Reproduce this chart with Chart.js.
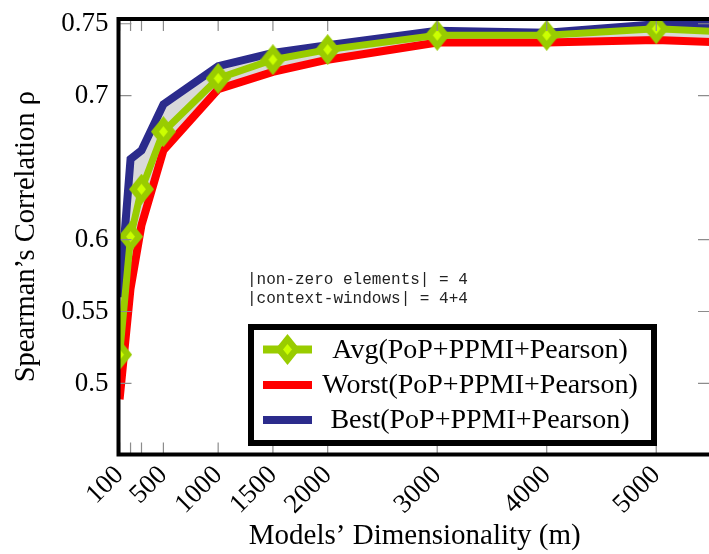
<!DOCTYPE html>
<html>
<head>
<meta charset="utf-8">
<script src="https://cdn.jsdelivr.net/npm/chart.js@4"></script>
<style>
html,body{margin:0;padding:0;overflow:hidden;background:#fff;width:709px;height:554px;}
canvas{display:block;}
</style>
</head>
<body>
<canvas id="c" width="730" height="554" style="width:730px;height:554px"></canvas>
<script>
// ---- data ----
const dims = [100, 200, 300, 500, 1000, 1500, 2000, 3000, 4000, 5000, 6000];
const avgVals = [0.520, 0.602, 0.635, 0.675, 0.712, 0.725, 0.732, 0.742, 0.742, 0.7465, 0.743];
const worstVals = [0.489, 0.566, 0.610, 0.662, 0.7045, 0.7165, 0.725, 0.737, 0.737, 0.7387, 0.736];
const bestVals = [0.560, 0.656, 0.662, 0.694, 0.7205, 0.7297, 0.735, 0.7452, 0.7438, 0.7497, 0.7484];
const seriesLabels = ['Avg(PoP+PPMI+Pearson)', 'Worst(PoP+PPMI+Pearson)', 'Best(PoP+PPMI+Pearson)'];
const xTickValues = [100, 200, 300, 500, 1000, 1500, 2000, 3000, 4000, 5000];
const xTickLabels = ['100', '', '', '500', '1000', '1500', '2000', '3000', '4000', '5000'];
const yTickValues = [0.5, 0.55, 0.6, 0.7, 0.75];
const yTickLabels = ['0.5', '0.55', '0.6', '0.7', '0.75'];
const noteLines = ['|non-zero elements| = 4', '|context-windows| = 4+4'];
const xTitle = 'Models\u2019 Dimensionality (m)';
const yTitle = 'Spearman\u2019s Correlation \u03c1';

// ---- styles ----
const GREEN = '#99cc00', LIME = '#ccff00', RED = '#ff0000', BLUE = '#2b2b8c', GRAY = '#d9d9d9';
const SERIF = '"Liberation Serif", "DejaVu Serif", serif';

function diamondPath(g, cx, cy, rx, ry) {
  g.beginPath(); g.moveTo(cx, cy - ry); g.lineTo(cx + rx, cy); g.lineTo(cx, cy + ry); g.lineTo(cx - rx, cy); g.closePath();
}
function makeMarker() {
  const w = 25, h = 31;
  const c = document.createElement('canvas'); c.width = w; c.height = h;
  const g = c.getContext('2d');
  g.fillStyle = GREEN; diamondPath(g, w / 2, h / 2, w / 2, h / 2); g.fill();
  g.fillStyle = LIME; diamondPath(g, w / 2, h / 2, 4.5, 5.5); g.fill();
  return c;
}
const marker = makeMarker();

const overlay = {
  id: 'overlay',
  afterDatasetsDraw(chart) {
    const {ctx, chartArea: a, scales: {x, y}} = chart;
    ctx.save();
    // inner ticks
    ctx.strokeStyle = '#8c8c8c'; ctx.lineWidth = 1.2;
    ctx.beginPath();
    xTickValues.forEach(v => {
      const px = x.getPixelForValue(v);
      ctx.moveTo(px, a.bottom); ctx.lineTo(px, a.bottom - 12);
      ctx.moveTo(px, a.top); ctx.lineTo(px, a.top + 12);
    });
    yTickValues.forEach(v => {
      const py = y.getPixelForValue(v);
      ctx.moveTo(a.left, py); ctx.lineTo(a.left + 13, py);
      ctx.moveTo(a.right, py); ctx.lineTo(a.right - 13, py);
    });
    ctx.stroke();
    // frame
    ctx.strokeStyle = '#000'; ctx.lineWidth = 4;
    ctx.strokeRect(a.left, a.top, a.right - a.left, a.bottom - a.top);
    // note text
    ctx.fillStyle = '#222'; ctx.font = '16px "Liberation Mono", "DejaVu Sans Mono", monospace';
    ctx.textBaseline = 'middle'; ctx.textAlign = 'left';
    ctx.fillText(noteLines[0], 247, 280);
    ctx.fillText(noteLines[1], 247, 299);
    // legend box
    ctx.fillStyle = '#fff';
    ctx.fillRect(251, 327, 403, 116);
    ctx.strokeStyle = '#000'; ctx.lineWidth = 6;
    ctx.strokeRect(251, 327, 403, 116);
    const rows = [349.5, 385, 420];
    const ds = chart.data.datasets;
    ds.forEach((d, i) => {
      const ry = rows[i];
      ctx.strokeStyle = d.borderColor; ctx.lineWidth = 8; ctx.lineCap = 'butt';
      ctx.beginPath(); ctx.moveTo(263, ry); ctx.lineTo(312, ry); ctx.stroke();
      if (i === 0) ctx.drawImage(marker, 287.5 - marker.width / 2, ry - marker.height / 2);
      ctx.fillStyle = '#000'; ctx.font = '28px ' + SERIF;
      ctx.textAlign = 'center'; ctx.textBaseline = 'middle';
      ctx.fillText(d.label, 480, ry + 1);
    });
    ctx.restore();
  }
};

const toPts = vals => dims.map((d, i) => ({x: d, y: vals[i]}));
const noPad = s => { s.paddingTop = 0; s.paddingBottom = 0; s.paddingLeft = 0; s.paddingRight = 0; };

new Chart(document.getElementById('c'), {
  type: 'line',
  data: {
    datasets: [
      {label: seriesLabels[0], data: toPts(avgVals), borderColor: GREEN, borderWidth: 7,
       pointStyle: marker, pointRadius: 12, fill: false, tension: 0},
      {label: seriesLabels[1], data: toPts(worstVals), borderColor: RED, borderWidth: 8,
       pointRadius: 0, fill: false, tension: 0},
      {label: seriesLabels[2], data: toPts(bestVals), borderColor: BLUE, borderWidth: 8,
       pointRadius: 0, fill: '-1', backgroundColor: GRAY, tension: 0}
    ]
  },
  options: {
    responsive: false, animation: false, devicePixelRatio: 1,
    layout: {padding: {top: 18, right: 13, left: 0, bottom: 0}},
    plugins: {legend: {display: false}, tooltip: {enabled: false}, filler: {drawTime: 'beforeDatasetDraw'}},
    scales: {
      x: {
        type: 'linear', min: 90, max: 5500,
        afterBuildTicks: s => { s.ticks = xTickValues.map(v => ({value: v})); },
        afterFit: s => { s.height = 99.5; noPad(s); },
        grid: {display: false, drawTicks: false}, border: {display: false},
        ticks: {autoSkip: false, minRotation: 45, maxRotation: 45, padding: 5, color: '#000',
          font: {family: SERIF, size: 27},
          callback: (v, i) => xTickLabels[i]},
        title: {display: true, text: xTitle, color: '#000', font: {family: SERIF, size: 29}, padding: {top: 0, bottom: 0}}
      },
      y: {
        type: 'linear', min: 0.4506, max: 0.7533,
        afterBuildTicks: s => { s.ticks = yTickValues.map(v => ({value: v})); },
        afterFit: s => { s.width = 118.5; noPad(s); },
        grid: {display: false, drawTicks: false}, border: {display: false},
        ticks: {padding: 10, color: '#000', font: {family: SERIF, size: 27},
          callback: (v, i) => yTickLabels[i]},
        title: {display: true, text: yTitle, color: '#000', font: {family: SERIF, size: 28.5}, padding: {top: 9, bottom: 0}}
      }
    }
  },
  plugins: [overlay]
});
</script>
</body>
</html>
